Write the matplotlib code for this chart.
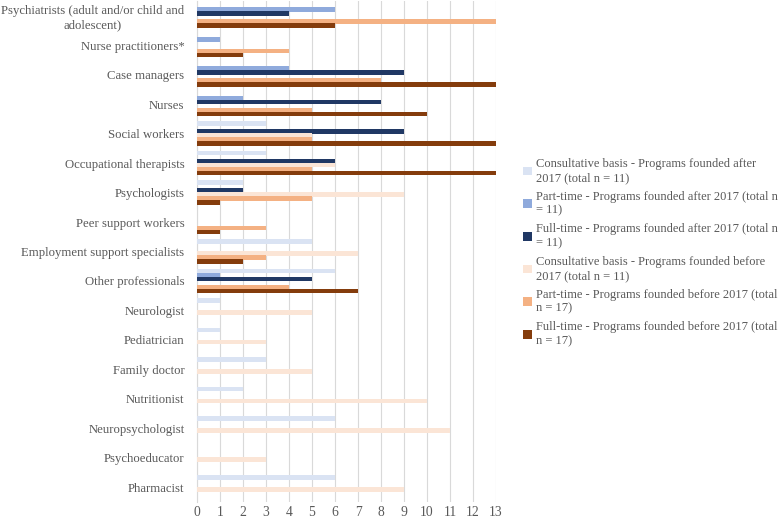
import numpy as np
import matplotlib
matplotlib.use("Agg")
import matplotlib.pyplot as plt

plt.rcParams['font.family'] = ['Liberation Serif', 'DejaVu Serif']

categories = ["Psychiatrists (adult and/or child and\nadolescent)", "Nurse practitioners*",
              "Case managers", "Nurses", "Social workers", "Occupational therapists",
              "Psychologists", "Peer support workers", "Employment support specialists",
              "Other professionals", "Neurologist", "Pediatrician", "Family doctor",
              "Nutritionist", "Neuropsychologist", "Psychoeducator", "Pharmacist"]

consult_after = [0, 0, 0, 0, 3, 3, 2, 0, 5, 6, 1, 1, 3, 2, 6, 0, 6]
part_after    = [6, 1, 4, 2, 0, 0, 0, 0, 0, 1, 0, 0, 0, 0, 0, 0, 0]
full_after    = [4, 0, 9, 8, 9, 6, 2, 0, 0, 5, 0, 0, 0, 0, 0, 0, 0]
consult_before = [0, 0, 0, 0, 5, 6, 9, 0, 7, 0, 5, 3, 5, 10, 11, 3, 9]
part_before   = [13, 4, 8, 5, 5, 5, 5, 3, 3, 4, 0, 0, 0, 0, 0, 0, 0]
full_before   = [6, 2, 13, 10, 13, 13, 1, 1, 2, 7, 0, 0, 0, 0, 0, 0, 0]

series_names = ["Consultative basis - Programs founded after\n2017 (total n = 11)",
                "Part-time - Programs founded after 2017 (total n\n= 11)",
                "Full-time - Programs founded after 2017 (total n\n= 11)",
                "Consultative basis - Programs founded before\n2017 (total n = 11)",
                "Part-time - Programs founded before 2017 (total\nn = 17)",
                "Full-time - Programs founded before 2017 (total\nn = 17)"]
colors = ["#DAE3F3", "#8FAADC", "#203864", "#FBE5D6", "#F4B183", "#843C0C"]

series = [consult_after, part_after, full_after, consult_before, part_before, full_before]

fig = plt.figure(figsize=(7.82, 5.19), dpi=100)
ax = fig.add_axes([197/782, 1 - 502/519, (496-197)/782, 501/519])

y = np.arange(len(categories))
step = 0.135
for i, (vals, name, c) in enumerate(zip(series, series_names, colors)):
    off = (i - 2.5) * step
    ax.barh(y + off, vals, height=0.155, color=c, label=name, zorder=3)

ax.set_ylim(len(categories) - 0.5, -0.5)
ax.set_xlim(0, 13)
ax.set_xticks(range(0, 14))
ax.set_yticks(y)
ax.set_yticklabels(categories, multialignment='center')
ax.tick_params(axis='y', length=0, colors='#595959', labelsize=9.2, pad=9)
ax.tick_params(axis='x', length=0, colors='#595959', labelsize=9.8, pad=3)
ax.grid(axis='x', color='#D9D9D9', linewidth=0.8, zorder=0)
for s in ['top', 'right', 'bottom']:
    ax.spines[s].set_visible(False)
ax.spines['left'].set_color('#D9D9D9')

leg = fig.legend(loc='upper left', bbox_to_anchor=(518/782, 1 - 153/519), frameon=False,
                 fontsize=9, handlelength=0.7, handleheight=0.7, handletextpad=0.3,
                 labelspacing=0.55, borderaxespad=0)
for t in leg.get_texts():
    t.set_color('#595959')

fig.savefig("out.png", dpi=100)
